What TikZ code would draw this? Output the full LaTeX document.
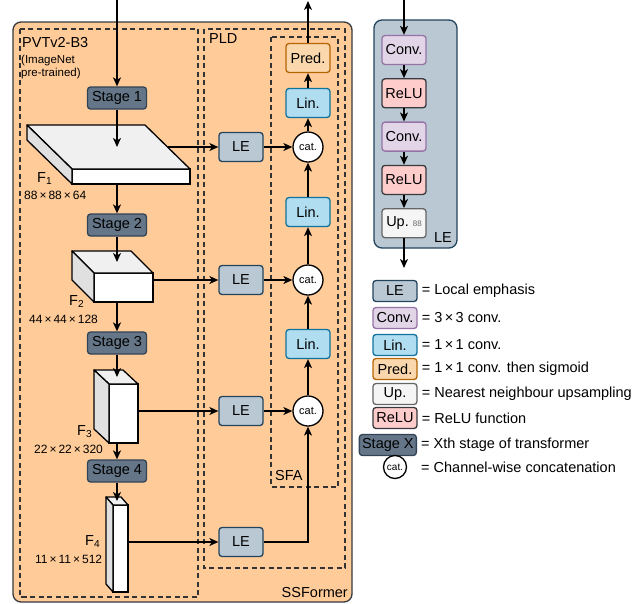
\documentclass[tikz,border=0pt]{standalone}
\usepackage{fontspec}
\setmainfont{Liberation Sans}
\usetikzlibrary{arrows.meta,positioning,calc}
\definecolor{ssfill}{HTML}{FFCC99}
\definecolor{ssline}{HTML}{36393D}
\definecolor{stagefill}{HTML}{647687}
\definecolor{stageline}{HTML}{314354}
\definecolor{lefill}{HTML}{BAC8D3}
\definecolor{leline}{HTML}{23445D}
\definecolor{linfill}{HTML}{B1DDF0}
\definecolor{linline}{HTML}{10739E}
\definecolor{predfill}{HTML}{FAD7AC}
\definecolor{predline}{HTML}{B46504}
\definecolor{convfill}{HTML}{E1D5E7}
\definecolor{convline}{HTML}{9673A6}
\definecolor{relufill}{HTML}{FFCCCC}
\definecolor{reluline}{HTML}{36393D}
\definecolor{upfill}{HTML}{F5F5F5}
\definecolor{upline}{HTML}{666666}
\definecolor{topface}{HTML}{F0F0F0}
\definecolor{sideface}{HTML}{E0E0E0}
\tikzset{blk/.style={draw,rounded corners=3pt,line width=1.3pt,minimum width=44pt,minimum height=29pt,inner sep=1pt,font=\fontsize{14.5}{16}\selectfont},stagebox/.style={blk,fill=stagefill,draw=stageline,minimum width=59pt,minimum height=22pt},lebox/.style={blk,fill=lefill,draw=leline},linbox/.style={blk,fill=linfill,draw=linline},predbox/.style={blk,fill=predfill,draw=predline},convbox/.style={blk,fill=convfill,draw=convline},relubox/.style={blk,fill=relufill,draw=reluline},upbox/.style={blk,fill=upfill,draw=upline},catnode/.style={circle,draw,fill=white,line width=1.3pt,minimum size=30pt,inner sep=0pt,font=\fontsize{11}{12}\selectfont},arr/.style={-{Stealth[length=9pt,width=8pt,inset=2.5pt]},line width=1.4pt},region/.style={draw=black!80,line width=1.1pt,dash pattern=on 5pt off 3.5pt},ssbox/.style={fill=ssfill,draw=ssline,rounded corners=8pt,line width=1.3pt},lepanel/.style={fill=lefill,draw=leline,rounded corners=8pt,line width=1.3pt},front/.style={draw,fill=white,line width=1.3pt,outer sep=0pt,inner sep=0pt},face/.style={draw,line width=1.3pt,line join=round},lbl/.style={font=\fontsize{14.5}{16}\selectfont,inner sep=0pt},small/.style={font=\fontsize{11.5}{13}\selectfont,inner sep=0pt,align=left},dimlbl/.style={font=\fontsize{12}{14}\selectfont,inner sep=0pt}}

\begin{document}
\begin{tikzpicture}[x=1pt,y=-1pt]
\useasboundingbox (0,0) rectangle (635,603);
% containers
\draw[ssbox] (13,22) rectangle (352,602);
\draw[region] (20,29) rectangle (198,597);
\draw[region] (204,29) rectangle (345,568);
\draw[region] (271,37) rectangle (338,487);
\node[lbl,anchor=base west] (tpvt) at (22,47) {PVTv2-B3};
\node[small,anchor=north west] (tinet) at (21,55) {(ImageNet\\pre-trained)};
\node[lbl,anchor=base west] (tpld) at (209,43) {PLD};
\node[lbl,anchor=base west] (tsfa) at (275,480) {SFA};
\node[lbl,anchor=base east] (tss) at (348,597) {SSFormer};
% encoder stages
\coordinate (in) at (117,0);
\node[stagebox] (s1) at (117,98) {Stage 1};
\node[stagebox] (s2) at (117,225) {Stage 2};
\node[stagebox] (s3) at (117,343) {Stage 3};
\node[stagebox] (s4) at (117,471) {Stage 4};
% feature maps
\node[front,minimum width=118pt,minimum height=15pt] (f1) at (131,176.5) {};
\filldraw[face,fill=topface] (f1.north west) -- ++(-45,-44) -- ++(118,0) -- (f1.north east) -- cycle;
\filldraw[face,fill=sideface] (f1.north west) -- ++(-45,-44) -- ++(0,15) -- (f1.south west) -- cycle;
\node[front,minimum width=59pt,minimum height=29pt] (f2) at (123.5,287.5) {};
\filldraw[face,fill=topface] (f2.north west) -- ++(-22,-22) -- ++(59,0) -- (f2.north east) -- cycle;
\filldraw[face,fill=sideface] (f2.north west) -- ++(-22,-22) -- ++(0,29) -- (f2.south west) -- cycle;
\node[front,minimum width=29pt,minimum height=59pt] (f3) at (123.5,413.5) {};
\filldraw[face,fill=topface] (f3.north west) -- ++(-15,-14) -- ++(29,0) -- (f3.north east) -- cycle;
\filldraw[face,fill=sideface] (f3.north west) -- ++(-15,-14) -- ++(0,59) -- (f3.south west) -- cycle;
\node[front,minimum width=15pt,minimum height=87pt] (f4) at (120.5,548.5) {};
\filldraw[face,fill=topface] (f4.north west) -- ++(-7,-8) -- ++(15,0) -- (f4.north east) -- cycle;
\filldraw[face,fill=sideface] (f4.north west) -- ++(-7,-8) -- ++(0,87) -- (f4.south west) -- cycle;
\coordinate (f1t) at ($(f1.north)+(-22.5,-22)$);
\coordinate (f2t) at ($(f2.north)+(-11,-11)$);
\coordinate (f3t) at ($(f3.north)+(-7.5,-7)$);
\coordinate (f4t) at ($(f4.north)+(-3.5,-4)$);
\coordinate (f1e) at ($(f1.north east)+(-22.5,-22)$);
\node[lbl,anchor=base west] (tf1) at (37,182) {F\textsubscript{1}};
\node[dimlbl,anchor=base west] (tdim1) at (24,199) {88\,×\,88\,×\,64};
\node[lbl,anchor=base west] (tf2) at (69,305) {F\textsubscript{2}};
\node[dimlbl,anchor=base west] (tdim2) at (29,323) {44\,×\,44\,×\,128};
\node[lbl,anchor=base west] (tf3) at (77,435) {F\textsubscript{3}};
\node[dimlbl,anchor=base west] (tdim3) at (34,453) {22\,×\,22\,×\,320};
\node[lbl,anchor=base west] (tf4) at (85,545) {F\textsubscript{4}};
\node[dimlbl,anchor=base west] (tdim4) at (35,563) {11\,×\,11\,×\,512};
% decoder
\node[lebox] (le1) at (241,147) {LE};
\node[lebox] (le2) at (241,280) {LE};
\node[lebox] (le3) at (241,411) {LE};
\node[lebox] (le4) at (241,542) {LE};
\node[catnode] (cat1) at (308,147) {cat.};
\node[catnode] (cat2) at (308,280) {cat.};
\node[catnode] (cat3) at (308,411) {cat.};
\node[linbox] (lin1) at (308,103) {Lin.};
\node[linbox] (lin2) at (308,212) {Lin.};
\node[linbox] (lin3) at (308,344) {Lin.};
\node[predbox] (pred) at (308,58) {Pred.};
\coordinate (out) at (308,1);
\draw[arr] (in) -- (s1);
\draw[arr] (s1) -- (s1.south |- f1t);
\draw[arr] (f1.south -| s2) -- (s2);
\draw[arr] (s2) -- (s2.south |- f2t);
\draw[arr] (f2.south -| s3) -- (s3);
\draw[arr] (s3) -- (s3.south |- f3t);
\draw[arr] (f3.south -| s4) -- (s4);
\draw[arr] (s4) -- (s4.south |- f4t);
\draw[arr] (f1e |- le1) -- (le1);
\draw[arr] (f2.east |- le2) -- (le2);
\draw[arr] (f3.east |- le3) -- (le3);
\draw[arr] (f4.east |- le4) -- (le4);
\draw[arr] (le1) -- (cat1);
\draw[arr] (le2) -- (cat2);
\draw[arr] (le3) -- (cat3);
\draw[arr] (le4) -| (cat3);
\draw[arr] (cat3) -- (lin3);
\draw[arr] (lin3) -- (cat2);
\draw[arr] (cat2) -- (lin2);
\draw[arr] (lin2) -- (cat1);
\draw[arr] (cat1) -- (lin1);
\draw[arr] (lin1) -- (pred);
\draw[arr] (pred) -- (out);
% local emphasis
\draw[lepanel] (374,20) rectangle (457,248);
\node[lbl,anchor=base east] (tle) at (452,242) {LE};
\coordinate (lein) at (404,0);
\coordinate (leout) at (404,268);
\node[convbox] (c1) at (404,50) {Conv.};
\node[relubox,below=13pt of c1] (r1) {ReLU};
\node[convbox,below=13pt of r1] (c2) {Conv.};
\node[relubox,below=13pt of c2] (r2) {ReLU};
\node[upbox,below=13pt of r2] (up) {Up.~{\fontsize{8}{9}\selectfont\color{upline}88}};
\draw[arr] (lein) -- (c1);
\draw[arr] (c1) -- (r1);
\draw[arr] (r1) -- (c2);
\draw[arr] (c2) -- (r2);
\draw[arr] (r2) -- (up);
\draw[arr] (up) -- (leout);
% legend
\node[lebox,minimum height=21pt] (lgle) at (395,291) {LE};
\node[convbox,minimum height=21pt] (lgconv) at (395,318) {Conv.};
\node[linbox,minimum height=21pt] (lglin) at (395,345) {Lin.};
\node[predbox,minimum height=21pt] (lgpred) at (395,369) {Pred.};
\node[upbox,minimum height=21pt] (lgup) at (395,394) {Up.};
\node[relubox,minimum height=21pt] (lgrelu) at (395,418) {ReLU};
\node[stagebox,minimum height=21pt,minimum width=57pt,anchor=east] (lgst) at (417,445) {Stage X};
\node[catnode,minimum size=23pt,font=\fontsize{10}{11}\selectfont] (lgcat) at (395,467) {cat.};
\node[lbl,right=4pt of lgle] (dle) {= Local emphasis};
\node[lbl,right=4pt of lgconv] (dconv) {= 3\,×\,3 conv.};
\node[lbl,right=4pt of lglin] (dlin) {= 1\,×\,1 conv.};
\node[lbl,right=4pt of lgpred] (dpred) {= 1\,×\,1 conv. then sigmoid};
\node[lbl,right=4pt of lgup] (dup) {= Nearest neighbour upsampling};
\node[lbl,right=4pt of lgrelu] (drelu) {= ReLU function};
\node[lbl,right=4pt of lgst] (dst) {= Xth stage of transformer};
\node[lbl,anchor=west] (dcat) at (lgcat -| dst.west) {= Channel-wise concatenation};
\end{tikzpicture}
\end{document}
